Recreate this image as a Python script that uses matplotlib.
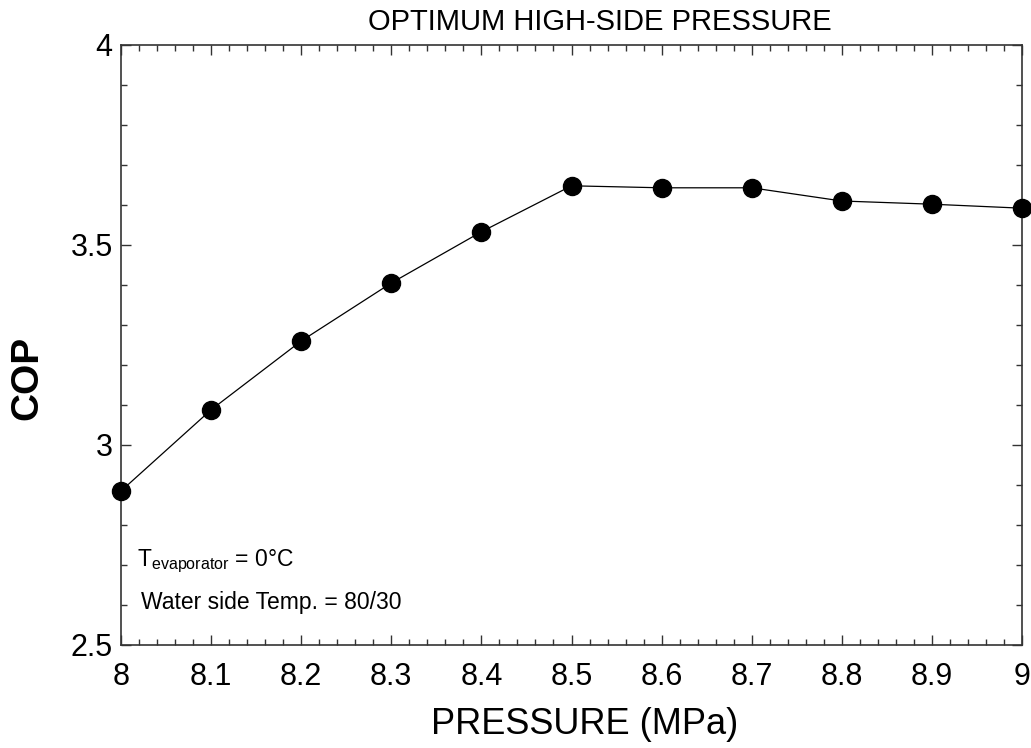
import matplotlib
matplotlib.use("Agg")
import matplotlib.pyplot as plt
from matplotlib.ticker import MultipleLocator

plt.rcParams["font.family"] = ["Liberation Sans", "DejaVu Sans"]
plt.rcParams["mathtext.fontset"] = "custom"
plt.rcParams["mathtext.rm"] = "Liberation Sans"
plt.rcParams["mathtext.it"] = "Liberation Sans"

pressure = [8.0, 8.1, 8.2, 8.3, 8.4, 8.5, 8.6, 8.7, 8.8, 8.9, 9.0]
cop = [2.885, 3.088, 3.26, 3.405, 3.533, 3.648, 3.643, 3.643, 3.61, 3.602, 3.592]
x_ticks = [8, 8.1, 8.2, 8.3, 8.4, 8.5, 8.6, 8.7, 8.8, 8.9, 9]
x_labels = ["8", "8.1", "8.2", "8.3", "8.4", "8.5", "8.6", "8.7", "8.8", "8.9", "9"]
y_ticks = [2.5, 3, 3.5, 4]
y_labels = ["2.5", "3", "3.5", "4"]

fig = plt.figure(figsize=(10.31, 7.48), dpi=100)
ax = fig.add_axes([121 / 1031, 103 / 748, 901 / 1031, 600 / 748])

ax.plot(pressure, cop, color="black", lw=0.9, marker="o", ms=13,
        mfc="black", mec="black", clip_on=False, zorder=3)

ax.set_xlim(8, 9)
ax.set_ylim(2.5, 4)
ax.set_xticks(x_ticks)
ax.set_xticklabels(x_labels)
ax.set_yticks(y_ticks)
ax.set_yticklabels(y_labels)
ax.xaxis.set_minor_locator(MultipleLocator(0.02))
ax.yaxis.set_minor_locator(MultipleLocator(0.1))
ax.tick_params(which="both", direction="in", top=True, right=True,
               color="#333333", width=1)
ax.tick_params(which="major", length=7, labelsize=22)
ax.tick_params(axis="x", which="major", pad=12)
ax.tick_params(axis="y", which="major", pad=6)
ax.tick_params(which="minor", length=4)
for s in ax.spines.values():
    s.set_color("#333333")
    s.set_linewidth(1.2)

ax.set_title("OPTIMUM HIGH-SIDE PRESSURE", fontsize=21, pad=11, x=0.531)
ax.set_xlabel("PRESSURE (MPa)", fontsize=26)
ax.xaxis.set_label_coords(0.515, -0.103)
ax.set_ylabel("COP", fontsize=28, fontweight="bold")
ax.yaxis.set_label_coords(-0.084, 0.445)

ax.text(0.018, 0.14, r"T$_{\mathrm{evaporator}}$ = 0°C", transform=ax.transAxes,
        fontsize=16.5, va="center", ha="left")
ax.text(0.022, 0.07, "Water side Temp. = 80/30", transform=ax.transAxes,
        fontsize=16.5, va="center", ha="left")

fig.savefig("out.png", dpi=100)
